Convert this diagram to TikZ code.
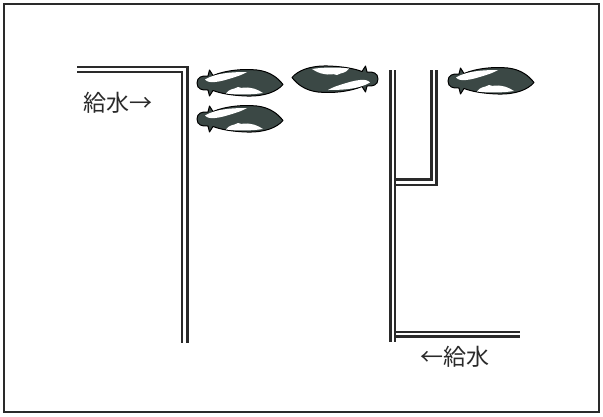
\documentclass[tikz,border=0pt]{standalone}
\usepackage{fontspec}
\newfontfamily\jp{Noto Sans CJK JP}
\definecolor{koi}{HTML}{3B4845}
\definecolor{ink}{HTML}{2A2A2A}
\tikzset{
  pipe/.style={draw=ink, line width=2.1pt, line cap=butt, line join=miter},
  frame/.style={draw=ink, line width=1.3pt},
  lbl/.style={font=\jp\fontsize{23}{23}\selectfont, inner sep=0pt, text=ink},
  pics/koi/.style={code={
    % body with head, pectoral fins and pointed tail
    \fill[koi, draw=black, line width=1pt, line join=round]
      (0,0) .. controls (0,-6) and (5,-7.5) .. (11,-7)
      -- (12.5,-13) -- (16,-7.5)
      .. controls (28,-12.5) and (45,-14.5) .. (60,-13)
      .. controls (73,-11.5) and (81,-5) .. (86,1.5)
      .. controls (80,8.5) and (68,13.5) .. (50,13)
      .. controls (35,12.5) and (24,10.5) .. (16,7.5)
      -- (12.5,13) -- (11,7)
      .. controls (5,7.5) and (0,6) .. (0,0) -- cycle;
    % white stripe from the head along the back
    \fill[white]
      (8,-3.5) .. controls (18,-9.5) and (32,-11) .. (50,-11)
      .. controls (46,-8.5) and (40,-6.5) .. (35,-5)
      .. controls (30,-3.5) and (24,-1.5) .. (18,-1)
      .. controls (14,-0.5) and (10,-1) .. (8,-3.5) -- cycle;
    % white patch on the belly
    \fill[white]
      (29,10.5) .. controls (32,5.5) and (37,6.5) .. (41,4)
      .. controls (45,6) and (50,3.5) .. (54,5)
      .. controls (58,5.5) and (62,7.5) .. (66,10)
      .. controls (55,11.8) and (40,12) .. (29,10.5) -- cycle;
  }}
}
\begin{document}
\begin{tikzpicture}[x=1pt, y=-1pt]
\useasboundingbox (0,0) rectangle (603,416);
\fill[white] (0,0) rectangle (603,416);
\draw[frame] (4,4) rectangle (599,412);

% left supply pipe: horizontal run turning down
\draw[pipe] (77,67) -- (187.5,67) -- (187.5,343);
\draw[pipe] (77,72) -- (182,72) -- (182,343);

% right pipe: main riser
\draw[pipe] (390.5,70) -- (390.5,342);
\draw[pipe] (395,70) -- (395,342);
% branch riser joined to the main riser
\draw[pipe] (431.5,70) -- (431.5,179.5) -- (395,179.5);
\draw[pipe] (436.5,70) -- (436.5,185) -- (395,185);
% bottom supply run
\draw[pipe] (395,332) -- (520,332);
\draw[pipe] (395,336.5) -- (520,336.5);

% koi
\pic at (197,83) {koi};
\pic at (197,119) {koi};
\pic[rotate=180] at (378,79) {koi};
\pic at (448,81) {koi};

% labels
\node[lbl, anchor=west] (in1) at (83,103) {給水→};
\node[lbl, anchor=west] (in2) at (420,357) {←給水};
\end{tikzpicture}
\end{document}
